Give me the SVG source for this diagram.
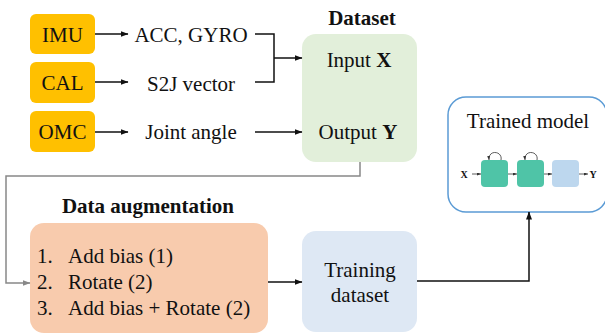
<svg xmlns="http://www.w3.org/2000/svg" width="605" height="335" viewBox="0 0 605 335">
<style>
text{font-family:'Liberation Serif','DejaVu Serif','Times New Roman',Times,serif;fill:#111}
.t{font-size:21px}
.b{font-weight:bold}
.src{fill:#ffc000}
.ln{fill:none;stroke:#111;stroke-width:1.5}
.gl{fill:none;stroke:#888;stroke-width:1.5}
.mini{fill:none;stroke:#333;stroke-width:0.8}
</style>
<defs>
<marker id="ah" markerWidth="8" markerHeight="6" refX="7.5" refY="3" orient="auto" markerUnits="userSpaceOnUse"><path d="M0,0 L8,3 L0,6 Z" fill="#111"/></marker>
<marker id="ag" markerWidth="8" markerHeight="6" refX="7.5" refY="3" orient="auto" markerUnits="userSpaceOnUse"><path d="M0,0 L8,3 L0,6 Z" fill="#888"/></marker>
<marker id="am" markerWidth="4" markerHeight="3" refX="4" refY="1.5" orient="auto" markerUnits="userSpaceOnUse"><path d="M0,0 L4,1.5 L0,3 Z" fill="#333"/></marker>
</defs>
<g font-family="Liberation Serif, serif">
<g id="imu"><rect class="src" x="30" y="14" width="65" height="40" rx="6"/><text class="t" x="62.5" y="42" text-anchor="middle">IMU</text></g>
<g id="cal"><rect class="src" x="30" y="62" width="65" height="41" rx="6"/><text class="t" x="62.5" y="90" text-anchor="middle">CAL</text></g>
<g id="omc"><rect class="src" x="30" y="111" width="65" height="41" rx="6"/><text class="t" x="62.5" y="139" text-anchor="middle">OMC</text></g>
<g id="acc"><text class="t" x="191" y="42" text-anchor="middle">ACC, GYRO</text></g>
<g id="s2j"><text class="t" x="191" y="91" text-anchor="middle">S2J vector</text></g>
<g id="joint"><text class="t" x="191" y="139" text-anchor="middle">Joint angle</text></g>
<g id="dataset">
<text class="t b" x="362" y="25" text-anchor="middle">Dataset</text>
<rect x="302" y="34" width="115" height="128" rx="14" fill="#e2efda"/>
<text class="t" x="359" y="67" text-anchor="middle">Input <tspan font-weight="bold">X</tspan></text>
<text class="t" x="358" y="139" text-anchor="middle">Output <tspan font-weight="bold">Y</tspan></text>
</g>
<g id="augmentation">
<text class="t b" x="148" y="213" text-anchor="middle">Data augmentation</text>
<rect x="30" y="223" width="238" height="110" rx="14" fill="#f8cbad"/>
<text class="t" x="37" y="263">1.</text><text class="t" x="68" y="263">Add bias (1)</text>
<text class="t" x="37" y="289">2.</text><text class="t" x="68" y="289">Rotate (2)</text>
<text class="t" x="37" y="315">3.</text><text class="t" x="68" y="315">Add bias + Rotate (2)</text>
</g>
<g id="training">
<rect x="302" y="231" width="115" height="101" rx="14" fill="#dee8f4"/>
<text class="t" x="360" y="277" text-anchor="middle">Training</text>
<text class="t" x="360" y="302" text-anchor="middle">dataset</text>
</g>
<g id="model">
<rect x="448" y="97" width="159" height="115" rx="18" fill="#fff" stroke="#5b9bd5" stroke-width="1.5"/>
<text class="t" x="528" y="128" text-anchor="middle">Trained model</text>
<text x="464" y="177.5" font-size="10" font-weight="bold" text-anchor="middle">X</text>
<line class="mini" x1="472" y1="174" x2="481" y2="174" marker-end="url(#am)"/>
<rect x="481" y="160" width="27" height="27" rx="4" fill="#4fc4a7"/>
<line class="mini" x1="508" y1="174" x2="517" y2="174" marker-end="url(#am)"/>
<rect x="517" y="160" width="27" height="27" rx="4" fill="#4fc4a7"/>
<line class="mini" x1="544" y1="174" x2="552" y2="174" marker-end="url(#am)"/>
<rect x="552" y="160" width="27" height="27" rx="4" fill="#bdd7ee"/>
<line class="mini" x1="579" y1="174" x2="588" y2="174" marker-end="url(#am)"/>
<text x="593" y="177.5" font-size="10" font-weight="bold" text-anchor="middle">Y</text>
<path class="mini" d="M501,160 C503,151 488,149 489,160" marker-end="url(#am)"/>
<path class="mini" d="M537,160 C539,151 524,149 525,160" marker-end="url(#am)"/>
</g>
</g>
<g id="connectors">
<line class="ln" x1="95" y1="34" x2="128" y2="34" marker-end="url(#ah)"/>
<line class="ln" x1="95" y1="82" x2="128" y2="82" marker-end="url(#ah)"/>
<line class="ln" x1="95" y1="132" x2="128" y2="132" marker-end="url(#ah)"/>
<path class="ln" d="M255,34 H274 V82 H255"/>
<line class="ln" x1="274" y1="58" x2="302" y2="58" marker-end="url(#ah)"/>
<line class="ln" x1="255" y1="132" x2="302" y2="132" marker-end="url(#ah)"/>
<path class="gl" d="M360,162 V176 H6 V283 H30" marker-end="url(#ag)"/>
<line class="ln" x1="268" y1="282" x2="302" y2="282" marker-end="url(#ah)"/>
<path class="ln" d="M417,281 H529 V212" marker-end="url(#ah)"/>
</g>
</svg>
